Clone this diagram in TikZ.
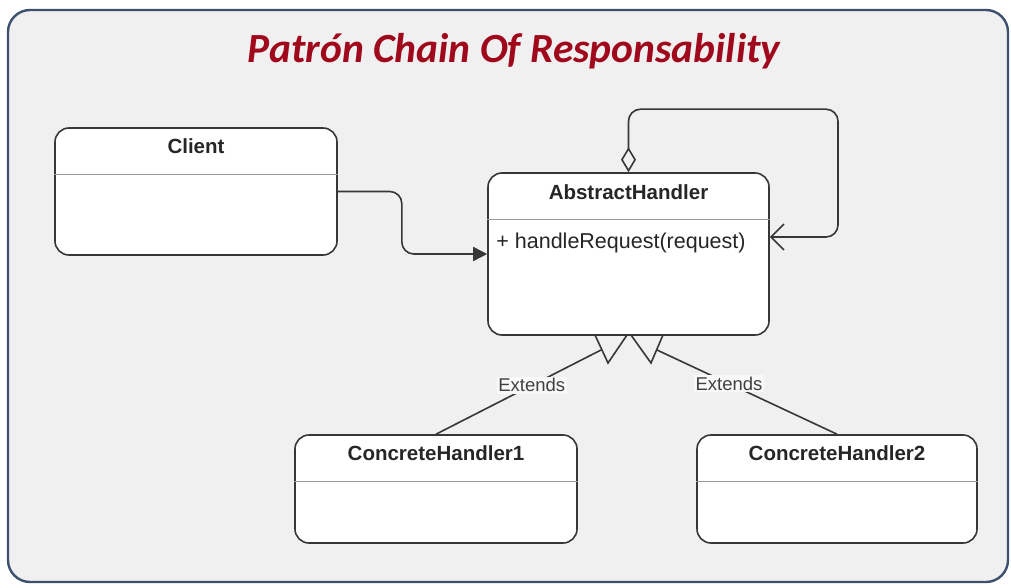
\documentclass[tikz,border=0pt]{standalone}
\usepackage{fontspec}
\setmainfont{Liberation Sans}
\newfontfamily\titlefont{Carlito}
\usetikzlibrary{arrows.meta,calc}
\definecolor{frameblue}{RGB}{62,80,110}
\definecolor{panel}{RGB}{240,240,240}
\definecolor{titlered}{RGB}{160,8,28}
\definecolor{ink}{RGB}{55,55,55}
\begin{document}
\begin{tikzpicture}[x=1pt,y=-1pt,
  umlbox/.style={draw=ink, line width=1.6pt, fill=white, rounded corners=14pt, inner sep=0pt},
  boxtitle/.style={font=\fontsize{20.5}{24}\selectfont\bfseries, text=black!85, inner sep=0pt},
  member/.style={font=\fontsize{21.5}{25}\selectfont, text=black!85, inner sep=0pt, anchor=west},
  sepline/.style={draw=black!40, line width=0.8pt},
  conn/.style={draw=ink, line width=1.6pt},
  extlabel/.style={font=\fontsize{18.5}{22}\selectfont, text=black!75, fill=panel!50!white, inner sep=1.5pt}]

\useasboundingbox (0,0) rectangle (1011,588);
\fill[white] (0,0) rectangle (1011,588);

% outer panel
\draw[frameblue, line width=2.4pt, fill=panel, rounded corners=22pt] (8,10) rectangle (1008,582);

% heading
\node[font=\titlefont\fontsize{41.5}{48}\selectfont\bfseries\itshape, text=titlered] (heading) at (514,51) {Patrón Chain Of Responsability};

% classes
\node[umlbox, minimum width=282pt, minimum height=127pt] (client) at (196,191.5) {};
\node[umlbox, minimum width=281pt, minimum height=162pt] (ah) at (628.5,254) {};
\node[umlbox, minimum width=282pt, minimum height=108pt] (ch1) at (436,489) {};
\node[umlbox, minimum width=280pt, minimum height=108pt] (ch2) at (837,489) {};

\node[boxtitle] (client-t) at ([yshift=-19pt]client.north) {Client};
\node[boxtitle] (ah-t) at ([yshift=-20pt]ah.north) {AbstractHandler};
\node[boxtitle] (ch1-t) at ([yshift=-19pt]ch1.north) {ConcreteHandler1};
\node[boxtitle] (ch2-t) at ([yshift=-19pt]ch2.north) {ConcreteHandler2};

\foreach \b in {client,ah,ch1,ch2}
  \draw[sepline] ([yshift=-47pt]\b.north west) -- ([yshift=-47pt]\b.north east);

\node[member] (ah-m) at ([xshift=9pt,yshift=-71pt]ah.north west) {+ handleRequest(request)};

% association client -> handler
\draw[conn, rounded corners=12pt, -{Triangle[length=14pt,width=14pt]}]
  (client.east) -- ++(64,0) |- (ah.west);

% successor self-association
\coordinate (loopend) at (838,237);
\draw[conn, rounded corners=12pt, {Diamond[open,length=25pt,width=15pt]}-{Straight Barb[length=13pt,width=26pt]}]
  (ah.north) -- ++(0,-63) -| (loopend) -- (ah.east |- loopend);

% generalization heads
\draw[conn, line join=miter] (595,335) -- (608,363) -- (627,335);
\draw[conn, line join=miter] (631,335) -- (651,363) -- (663,335);
\coordinate (g1) at (601,350);
\coordinate (g2) at (657,350);
\draw[conn] (ch1.north) -- node[extlabel, pos=0.58] {Extends} (g1);
\draw[conn] (ch2.north) -- node[extlabel, pos=0.6] {Extends} (g2);
\end{tikzpicture}
\end{document}
